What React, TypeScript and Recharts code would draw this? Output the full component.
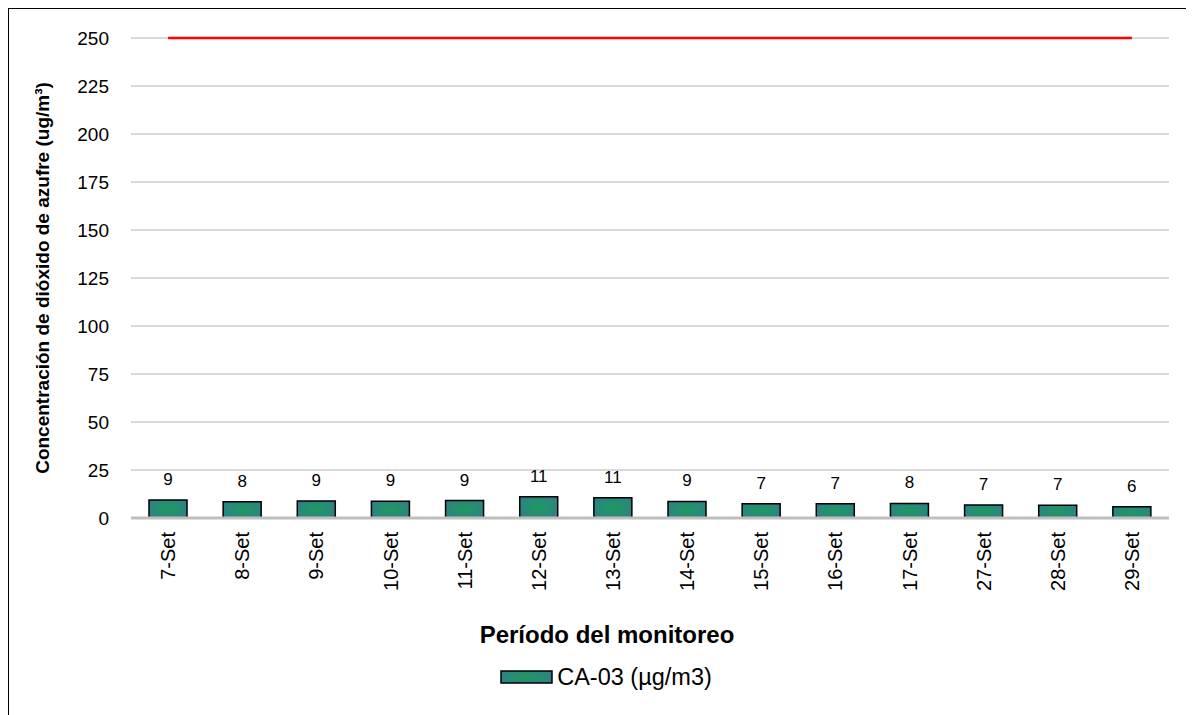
import React from 'react';
import { ComposedChart, Bar, Line, XAxis, YAxis, CartesianGrid, Legend, LabelList } from 'recharts';

const fechas = ['7-Set', '8-Set', '9-Set', '10-Set', '11-Set', '12-Set', '13-Set', '14-Set', '15-Set', '16-Set', '17-Set', '27-Set', '28-Set', '29-Set'];
const ca03 = [9.4, 8.4, 8.9, 8.7, 9.1, 11.1, 10.6, 8.6, 7.4, 7.4, 7.6, 6.8, 6.7, 5.9];
const limiteECA = [250, 250, 250, 250, 250, 250, 250, 250, 250, 250, 250, 250, 250, 250];
const yTicks = [0, 25, 50, 75, 100, 125, 150, 175, 200, 225, 250];

const data = fechas.map((fecha, i) => ({ fecha, ca03: ca03[i], limite: limiteECA[i] }));

const FONT = '"Liberation Sans", Arial, sans-serif';

const FechaTick = (props: any) => {
  const { x, y, payload } = props;
  return (
    <text
      transform={`translate(${x},${y + 6}) rotate(-90)`}
      textAnchor="end"
      dy="0.35em"
      fontSize={20}
      fontFamily={FONT}
      fill="#000"
    >
      {payload.value}
    </text>
  );
};

const LeyendaCA = () => (
  <div style={{ display: 'flex', justifyContent: 'center', alignItems: 'center', height: 24, paddingLeft: 34, fontFamily: FONT, fontSize: 23.5, color: '#000' }}>
    <svg width={53} height={14} style={{ marginRight: 4 }}>
      <rect x={1} y={1} width={51} height={12} fill="url(#gradBarra)" stroke="#000" strokeWidth={1.5} />
    </svg>
    <span>CA-03 (µg/m3)</span>
  </div>
);

export default function App() {
  return (
    <div style={{ width: 1186, height: 720, border: '1px solid #000', background: '#fff' }}>
      <ComposedChart
        width={1185}
        height={706}
        data={data}
        margin={{ top: 29, right: 25, left: 0, bottom: 26 }}
      >
        <defs>
          <radialGradient id="gradBarra" cx="50%" cy="50%" r="70%">
            <stop offset="0%" stopColor="#1f9a5e" />
            <stop offset="100%" stopColor="#2f7d8c" />
          </radialGradient>
        </defs>
        <CartesianGrid vertical={false} stroke="#d9d9d9" strokeWidth={2} />
        <XAxis
          dataKey="fecha"
          height={147}
          tick={<FechaTick />}
          tickLine={false}
          axisLine={{ stroke: '#bfbfbf', strokeWidth: 3 }}
          interval={0}
          label={{ value: 'Período del monitoreo', position: 'insideBottom', offset: 22, dx: -43, style: { fontFamily: FONT, fontSize: 24, fontWeight: 'bold', fill: '#000' } }}
        />
        <YAxis
          width={122}
          domain={[0, 250]}
          ticks={yTicks}
          tickLine={false}
          axisLine={false}
          tickMargin={16}
          tick={{ fontSize: 19, fontFamily: FONT, fill: '#000' }}
          label={{ value: 'Concentración de dióxido de azufre (ug/m³)', angle: -90, position: 'insideLeft', offset: 33, style: { textAnchor: 'middle', fontFamily: FONT, fontSize: 19, fontWeight: 'bold', fill: '#000' } }}
        />
        <Legend verticalAlign="bottom" content={<LeyendaCA />} />
        <Bar dataKey="ca03" name="CA-03 (µg/m3)" barSize={38} fill="url(#gradBarra)" stroke="#000" strokeWidth={1.5} isAnimationActive={false}>
          <LabelList dataKey="ca03" position="top" offset={15} formatter={(v: any) => Math.round(Number(v))} style={{ fontFamily: FONT, fontSize: 17, fill: '#000' }} />
        </Bar>
        <Line dataKey="limite" type="linear" stroke="#ff0000" strokeWidth={2.5} dot={false} activeDot={false} legendType="none" isAnimationActive={false} />
      </ComposedChart>
    </div>
  );
}
